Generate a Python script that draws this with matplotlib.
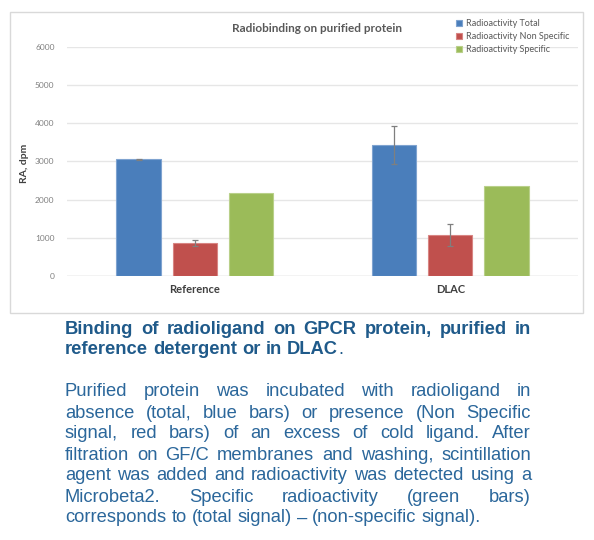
import matplotlib
matplotlib.use("Agg")
import matplotlib.pyplot as plt
import numpy as np
from matplotlib.patches import Rectangle

# ---- data ----
categories = ["Reference", "DLAC"]
series_names = ["Radioactivity Total", "Radioactivity Non Specific", "Radioactivity Specific"]
total_vals = [3055, 3430]
total_err = [15, 490]
nonspec_vals = [860, 1070]
nonspec_err = [80, 290]
spec_vals = [2180, 2360]
spec_err = [0, 0]
yticks = [0, 1000, 2000, 3000, 4000, 5000, 6000]

title = "Radiobinding on purified protein"
ylabel = "RA, dpm"

caption_bold = [
    "Binding of radioligand on GPCR protein, purified in",
    "reference detergent or in DLAC",
]
caption_body = [
    "Purified protein was incubated with radioligand in",
    "absence (total, blue bars) or presence (Non Specific",
    "signal, red bars) of an excess of cold ligand. After",
    "filtration on GF/C membranes and washing, scintillation",
    "agent was added and radioactivity was detected using a",
    "Microbeta2. Specific radioactivity (green bars)",
    "corresponds to (total signal) \u2013 (non-specific signal).",
]

colors = ["#4A7EBB", "#C0504D", "#9BBB59"]
edges = ["#7FA3D0", "#D88583", "#B9D08A"]

W, H = 594, 540
fig = plt.figure(figsize=(W / 100, H / 100), dpi=100)
fig.patch.set_facecolor("white")

# chart border
fig.add_artist(Rectangle((10 / W, 1 - 313 / H), (583 - 10) / W, (313 - 12) / H,
                         transform=fig.transFigure, fill=False,
                         edgecolor="#D9D9D9", linewidth=1.0))

ax_l, ax_r, ax_b, ax_t = 67, 578, 276, 46.7
ax = fig.add_axes([ax_l / W, 1 - ax_b / H, (ax_r - ax_l) / W, (ax_b - ax_t) / H])
ax.set_ylim(0, 6000)
ax.set_xlim(0, 2)
chart_font = "Lato"

x = np.arange(len(categories)) + 0.5
bw = 0.174
offs = [-0.22, 0.0, 0.22]
vals = [total_vals, nonspec_vals, spec_vals]
errs = [total_err, nonspec_err, spec_err]
for i in range(3):
    ax.bar(x + offs[i], vals[i], width=bw, color=colors[i], edgecolor=edges[i],
           linewidth=0.8, zorder=3, label=series_names[i])
    e = np.array(errs[i])
    if e.any():
        ax.errorbar(x + offs[i], vals[i], yerr=e, fmt="none", ecolor="#7F7F7F",
                    elinewidth=0.9, capsize=2.5, capthick=0.9, zorder=4)

ax.set_yticks(yticks)
ax.set_yticklabels([str(v) for v in yticks], fontsize=6, color="#808080", family=chart_font)
ax.set_xticks(x)
ax.set_xticklabels(categories, fontsize=8, fontweight="bold", color="#404040", family=chart_font)
ax.tick_params(axis="both", length=0)
ax.tick_params(axis="y", pad=9)
ax.tick_params(axis="x", pad=6)
ax.grid(axis="y", color="#E6E6E6", linewidth=1.0, zorder=0)
for s in ax.spines.values():
    s.set_visible(False)
ax.axhline(0, color="#D9D9D9", linewidth=1.0, zorder=2)

fig.text(24 / W, 1 - 163 / H, ylabel, rotation=90, ha="center", va="center",
         fontsize=7.5, fontweight="bold", color="#404040", family=chart_font)
fig.text(317 / W, 1 - 28 / H, title, ha="center", va="center",
         fontsize=8.5, fontweight="bold", color="#595959", family=chart_font)

leg = ax.legend(loc="upper left", bbox_to_anchor=(456 / W, 1 - 19 / H),
                bbox_transform=fig.transFigure, frameon=False,
                prop={"family": chart_font, "size": 6.5}, handlelength=0.7,
                handleheight=0.7, handletextpad=0.4, labelspacing=0.45,
                borderpad=0, borderaxespad=0)
for t in leg.get_texts():
    t.set_color("#595959")

# ---- caption with justified text ----
renderer = fig.canvas.get_renderer()
cap_font = "Liberation Sans"
left_px, right_px = 65, 531


def place_line(words, y_px, weight, color, size, justify, suffix=None):
    objs = []
    for w in words:
        t = fig.text(0, 1 - y_px / H, w, fontsize=size, fontweight=weight, color=color,
                     family=cap_font, ha="left", va="center")
        objs.append(t)
    widths = [t.get_window_extent(renderer).width for t in objs]
    sp = fig.text(0, 0, "a a", fontsize=size, family=cap_font, fontweight=weight)
    sp2 = fig.text(0, 0, "aa", fontsize=size, family=cap_font, fontweight=weight)
    space_w = sp.get_window_extent(renderer).width - sp2.get_window_extent(renderer).width
    sp.remove(); sp2.remove()
    if justify and len(words) > 1:
        gap = (right_px - left_px - sum(widths)) / (len(words) - 1)
    else:
        gap = space_w
    xp = left_px
    for t, wdt in zip(objs, widths):
        t.set_x(xp / W)
        xp += wdt + gap
    if suffix is not None:
        fig.text((xp - gap + 0.3) / W, 1 - y_px / H, suffix, fontsize=size, color=color,
                 family=cap_font, ha="left", va="center")


bold_color = "#1F5A8A"
body_color = "#2B679B"
bsize = 13.2
for i, line in enumerate(caption_bold):
    last = i == len(caption_bold) - 1
    place_line(line.split(" "), 329 + 21 * i, "bold", bold_color, bsize,
               justify=not last, suffix="." if last else None)

for i, line in enumerate(caption_body):
    last = i == len(caption_body) - 1
    place_line(line.split(" "), 392 + 21 * i, "normal", body_color, bsize,
               justify=not last)

fig.savefig("out.png", dpi=100, facecolor="white")
